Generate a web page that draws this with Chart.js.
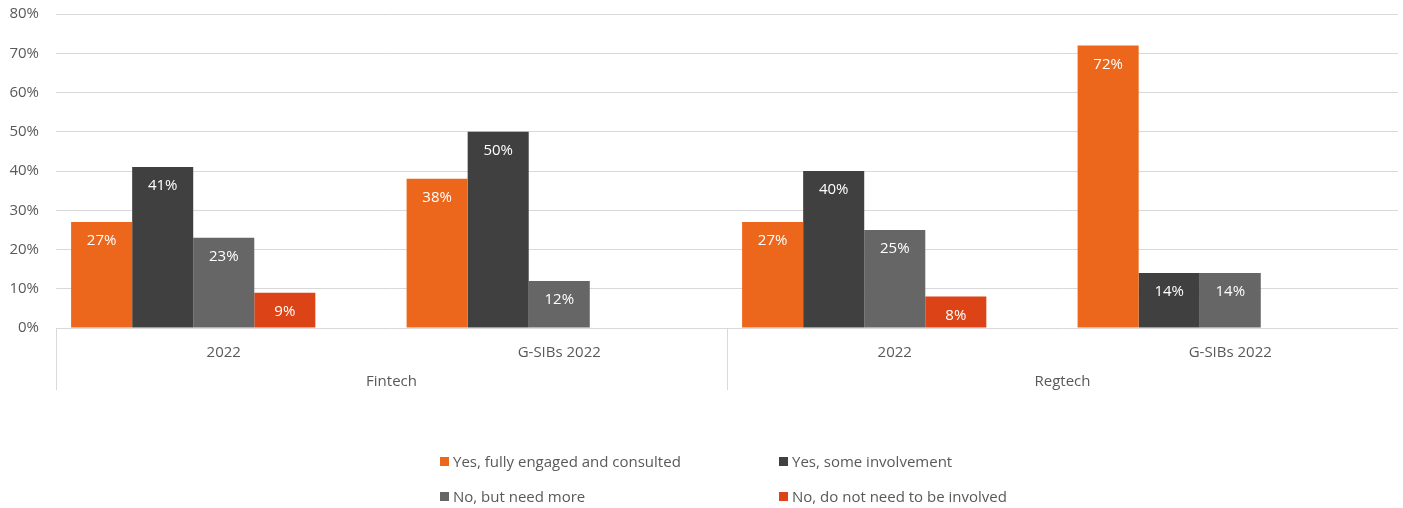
<!DOCTYPE html>
<html>
<head>
<meta charset="utf-8">
<script src="https://cdn.jsdelivr.net/npm/chart.js@4"></script>
<style>
  body { margin: 0; background: #fff; overflow: hidden; }
  #wrap { position: relative; width: 1403px; height: 508px; overflow: hidden; }
  #chart { position: absolute; left: 0; top: -12px; }
  #legend { position: absolute; left: 440px; top: 451px; font-family: "Open Sans", sans-serif;
    font-size: 15px; color: #595959; display: grid; grid-template-columns: 339px 300px; row-gap: 15px; }
  .item { display: flex; align-items: center; height: 20px; white-space: nowrap; }
  .box { width: 9px; height: 9px; margin-right: 4px; }
</style>
</head>
<body>
<div id="wrap">
  <canvas id="chart" width="1403" height="520"></canvas>
  <div id="legend"></div>
</div>
<script>
const subLabels = ["2022", "G-SIBs 2022", "2022", "G-SIBs 2022"];
const groupLabels = ["Fintech", "Regtech"];
const yTicks = [0, 10, 20, 30, 40, 50, 60, 70, 80];

const fullyEngaged = [27, 38, 27, 72];
const someInvolvement = [41, 50, 40, 14];
const needMore = [23, 12, 25, 14];
const notNeeded = [9, null, 8, null];

const seriesNames = ["Yes, fully engaged and consulted", "Yes, some involvement", "No, but need more", "No, do not need to be involved"];
const colors = ["#ec671b", "#404040", "#666666", "#dc4316"];

const textColor = "#595959";
const gridColor = "#d9d9d9";
const font = { family: "Open Sans", size: 15 };

const allSeries = [fullyEngaged, someInvolvement, needMore, notNeeded];
const datasets = allSeries.map((d, i) => ({
  label: seriesNames[i],
  data: d,
  backgroundColor: colors[i]
}));
// empty slot, the original leaves room for a fifth bar in each group
datasets.push({ label: "", data: [null, null, null, null], backgroundColor: "transparent" });

const barLabels = {
  id: "barLabels",
  afterDatasetsDraw(chart) {
    const ctx = chart.ctx;
    ctx.save();
    ctx.fillStyle = "#fff";
    ctx.font = "15px 'Open Sans'";
    ctx.textAlign = "center";
    ctx.textBaseline = "middle";
    chart.data.datasets.forEach((ds, i) => {
      chart.getDatasetMeta(i).data.forEach((bar, j) => {
        const v = ds.data[j];
        if (v == null) return;
        ctx.fillText(Math.round(v) + "%", bar.x, bar.y + 19);
      });
    });
    ctx.restore();
  }
};

const groupLines = {
  id: "groupLines",
  afterDraw(chart) {
    const ctx = chart.ctx;
    const x = chart.scales.x;
    const a = chart.chartArea;
    const mid = (x.getPixelForValue(1) + x.getPixelForValue(2)) / 2;
    ctx.save();
    ctx.strokeStyle = gridColor;
    ctx.lineWidth = 1;
    [a.left, mid].forEach(px => {
      ctx.beginPath();
      ctx.moveTo(Math.round(px) + 0.5, a.bottom);
      ctx.lineTo(Math.round(px) + 0.5, a.bottom + 62);
      ctx.stroke();
    });
    ctx.restore();
  }
};

new Chart(document.getElementById("chart"), {
  type: "bar",
  data: { labels: subLabels, datasets },
  options: {
    responsive: false,
    animation: false,
    categoryPercentage: 0.91,
    barPercentage: 1,
    layout: { padding: { top: 5, right: 5, bottom: 102, left: 0 } },
    plugins: { legend: { display: false }, tooltip: { enabled: false } },
    scales: {
      x: {
        grid: { display: false },
        border: { display: false },
        ticks: { color: textColor, font, padding: 8 },
        afterFit: s => { s.height = 34; }
      },
      x2: {
        type: "category",
        labels: groupLabels,
        position: "bottom",
        grid: { display: false },
        border: { display: false },
        ticks: { color: textColor, font, padding: 3 },
        afterFit: s => { s.height = 44; }
      },
      y: {
        min: 0,
        max: 80,
        afterBuildTicks: s => { s.ticks = yTicks.map(v => ({ value: v })); },
        grid: { color: gridColor, drawTicks: false },
        border: { display: false },
        ticks: { color: textColor, font, padding: 17, callback: v => v + "%" },
        afterFit: s => { s.width = 56; }
      }
    }
  },
  plugins: [barLabels, groupLines]
});

const legend = document.getElementById("legend");
seriesNames.forEach((name, i) => {
  const item = document.createElement("div");
  item.className = "item";
  item.innerHTML = `<span class="box" style="background:${colors[i]}"></span>${name}`;
  legend.appendChild(item);
});
</script>
</body>
</html>
